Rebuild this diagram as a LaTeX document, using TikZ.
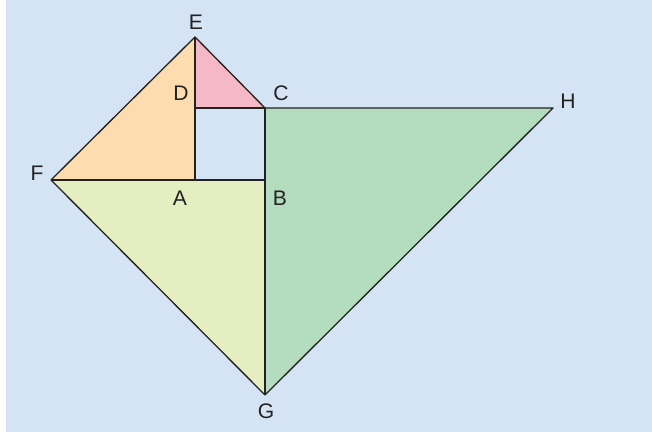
\documentclass[tikz,border=0pt]{standalone}
\usepackage{fontspec}
\setmainfont{Liberation Sans}
\usepackage{tikz}
\definecolor{Fondo}{HTML}{D5E4F4}
\definecolor{Naranja}{HTML}{FDDDB0}
\definecolor{Rosa}{HTML}{F5B9C6}
\definecolor{Amarillo}{HTML}{E5EEC0}
\definecolor{Verde}{HTML}{B4DCBF}
\definecolor{Linea}{HTML}{222222}
\begin{document}
\begin{tikzpicture}[
  x=0.02cm,y=0.02cm,
  every node/.style={font=\fontsize{12}{14}\selectfont},
  lado/.style={draw=Linea,line width=0.75pt,line join=round},
  etiq/.style={inner sep=0pt,text=Linea}
]
  \useasboundingbox (0,0) rectangle (652,432);
  \fill[white] (0,0) rectangle (6,432);
  \fill[Fondo] (6,0) rectangle (652,432);
  % vertices
  \coordinate (E) at (195,395);
  \coordinate (D) at (195,324);
  \coordinate (C) at (265,324);
  \coordinate (H) at (553,324);
  \coordinate (F) at (51,252);
  \coordinate (A) at (195,252);
  \coordinate (B) at (265,252);
  \coordinate (G) at (265,37);
  % triangles
  \fill[Naranja] (F) -- (E) -- (A) -- cycle;
  \fill[Rosa] (E) -- (C) -- (D) -- cycle;
  \fill[Amarillo] (F) -- (B) -- (G) -- cycle;
  \fill[Verde] (C) -- (H) -- (G) -- cycle;
  % lines
  \draw[lado] (F) -- (E) -- (C) -- (H) -- (G) -- cycle;
  \draw[lado] (E) -- (A);
  \draw[lado] (D) -- (C) -- (G);
  \draw[lado] (F) -- (B);
  % labels
  \node[etiq] (lE) at (196,410) {E};
  \node[etiq] (lD) at (181,339) {D};
  \node[etiq] (lC) at (281,339) {C};
  \node[etiq] (lH) at (568,331) {H};
  \node[etiq] (lF) at (37,259) {F};
  \node[etiq] (lA) at (180,234) {A};
  \node[etiq] (lB) at (280,234) {B};
  \node[etiq] (lG) at (266,21) {G};
\end{tikzpicture}
\end{document}
